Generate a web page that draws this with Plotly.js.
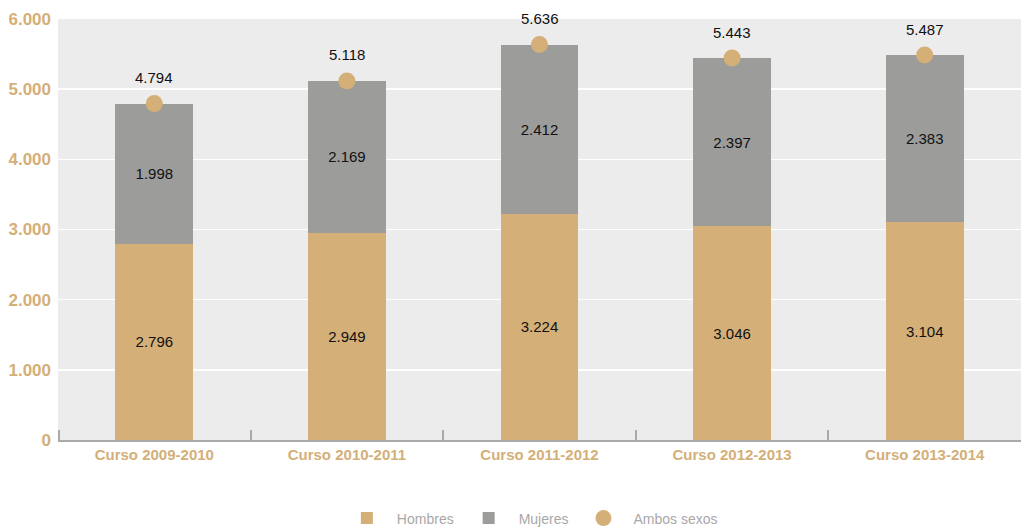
<!DOCTYPE html>
<html><head><meta charset="utf-8">
<script src="https://cdn.plot.ly/plotly-3.0.1.min.js"></script>
<style>html,body{margin:0;padding:0;background:#fff}#c{width:1021px;height:528px}</style>
</head><body><div id="c"></div>
<script>
const categories = ["Curso 2009-2010","Curso 2010-2011","Curso 2011-2012","Curso 2012-2013","Curso 2013-2014"];
const hombres = [2796, 2949, 3224, 3046, 3104];
const mujeres = [1998, 2169, 2412, 2397, 2383];
const ambos = [4794, 5118, 5636, 5443, 5487];
const yTicks = [0, 1000, 2000, 3000, 4000, 5000, 6000];

const TAN = "#D4AF78", GRAY = "#9C9C9A";
const FONT = "'Liberation Sans Narrow', 'Arial Narrow', 'Liberation Sans', Arial, sans-serif";

const traces = [
  {type:"bar", name:"Hombres", x:categories, y:hombres, marker:{color:TAN},
   texttemplate:"%{y:,}", textposition:"inside", insidetextanchor:"middle",
   textfont:{family:FONT, size:15, color:"#111"}, hoverinfo:"none"},
  {type:"bar", name:"Mujeres", x:categories, y:mujeres, marker:{color:GRAY},
   texttemplate:"%{y:,}", textposition:"inside", insidetextanchor:"middle",
   textfont:{family:FONT, size:15, color:"#111"}, hoverinfo:"none"},
  {type:"scatter", mode:"markers", name:"Ambos sexos", x:categories, y:ambos,
   marker:{color:TAN, size:17}, hoverinfo:"none"}
];

const annotations = categories.map((c,i)=>({
  x:c, y:ambos[i], xref:"x", yref:"y", text:ambos[i].toLocaleString("de-DE"),
  showarrow:false, yshift:26, font:{family:FONT, size:15, color:"#111"}
}));

const layout = {
  width:1021, height:528,
  margin:{l:58, r:0, t:19, b:88, autoexpand:false},
  paper_bgcolor:"#fff", plot_bgcolor:"#ECECEC",
  separators:",.",
  barmode:"stack", bargap:0.596,
  showlegend:true,
  legend:{orientation:"h", x:0.49, xref:"paper", xanchor:"center", yref:"container", y:0.018, yanchor:"middle",
    font:{family:FONT, size:14, color:"#A8A8A8"}, itemwidth:50, traceorder:"normal"},
  xaxis:{type:"category", showline:true, linecolor:"#A9A9A9", linewidth:2,
    ticks:"inside", tickson:"boundaries", ticklen:10, tickcolor:"#A9A9A9", tickwidth:2,
    showgrid:false, tickfont:{family:FONT, size:15, color:TAN, weight:"bold"}},
  yaxis:{range:[0,6000], tickvals:yTicks, tickformat:",", showgrid:true, gridcolor:"#fff", gridwidth:1.5,
    zeroline:false, showline:false, ticks:"", ticklabelstandoff:6,
    tickfont:{family:FONT, size:17, color:TAN, weight:"bold"}},
  shapes:[{type:"line", xref:"paper", yref:"y", x0:0.001, x1:0.001, y0:0, ysizemode:"pixel", yanchor:0,
    line:{color:"#A9A9A9", width:2}, }].map(s=>Object.assign(s,{y0:0, y1:10})),
  annotations:annotations
};
Plotly.newPlot("c", traces, layout, {displayModeBar:false, staticPlot:true});
</script></body></html>
